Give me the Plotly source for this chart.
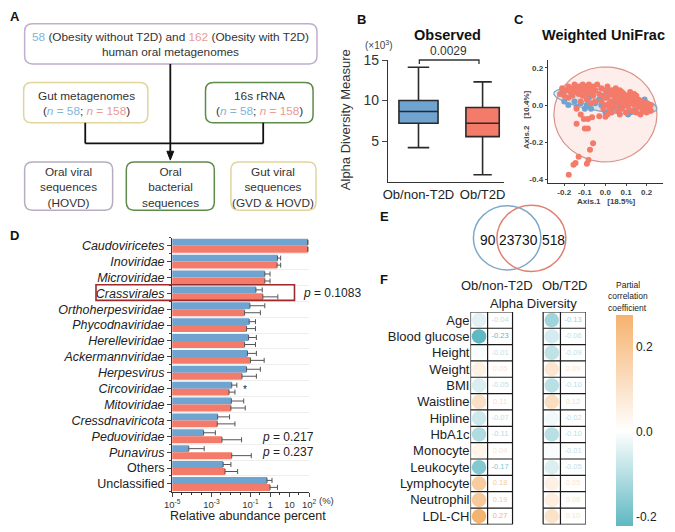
import numpy as np
import plotly.graph_objects as go

W, H = 675, 532
FONT = "Liberation Sans, Arial, sans-serif"
TXT = "#222222"
BLUE = "#6fa3d0"
RED = "#f47a69"


def px(x):
    return x / W


def py(y):
    return 1 - y / H


# ---------------- DATA ----------------
# Panel B: Observed alpha diversity (x10^3)
groups_B = ["Ob/non-T2D", "Ob/T2D"]
upper_B = [14.1, 12.3]
q3_B = [10.0, 9.15]
median_B = [8.65, 7.2]
q1_B = [7.2, 5.55]
lower_B = [4.2, 0.85]
pval_B = "0.0029"

# Panel C: Weighted UniFrac PCoA (estimated point positions)
blue_points = [(-0.20, 0.02), (-0.18, 0.00), (-0.21, 0.07), (-0.14, -0.01), (-0.12, 0.01),
               (-0.10, -0.02), (-0.08, 0.04), (-0.07, -0.02), (-0.05, 0.01), (-0.03, 0.03),
               (-0.15, 0.02), (-0.11, 0.09), (-0.06, 0.07), (0.00, -0.04), (0.03, -0.03),
               (0.05, 0.01), (0.07, -0.02), (0.10, 0.00), (0.12, -0.04), (0.14, -0.03),
               (0.16, 0.01), (0.18, -0.02), (0.20, -0.01), (0.09, 0.05), (0.13, 0.03),
               (0.19, 0.03), (-0.02, 0.00), (0.11, -0.05), (-0.09, 0.00), (0.01, 0.07)]
red_points = [(-0.22, 0.06), (-0.21, 0.09), (-0.20, 0.05), (-0.19, 0.08), (-0.18, 0.10),
              (-0.18, 0.04), (-0.17, 0.07), (-0.16, 0.09), (-0.16, 0.05), (-0.15, 0.11),
              (-0.15, 0.07), (-0.14, 0.09), (-0.13, 0.06), (-0.13, 0.10), (-0.12, 0.08),
              (-0.11, 0.11), (-0.11, 0.05), (-0.10, 0.08), (-0.10, 0.10), (-0.09, 0.06),
              (-0.09, 0.03), (-0.08, 0.09), (-0.08, 0.11), (-0.07, 0.07), (-0.06, 0.10),
              (-0.06, 0.05), (-0.05, 0.08), (-0.04, 0.11), (-0.12, 0.02), (-0.07, 0.01),
              (-0.05, 0.02),
              (-0.03, 0.06), (-0.02, 0.09), (-0.02, 0.02), (-0.01, 0.05), (0.00, 0.08),
              (0.00, 0.00), (0.01, 0.04), (0.01, 0.10), (0.02, 0.06), (0.02, -0.02),
              (0.03, 0.02), (0.03, 0.08), (0.04, 0.05), (0.04, -0.01), (0.05, 0.09),
              (0.05, 0.03), (0.06, 0.06), (0.06, -0.03), (0.07, 0.01), (0.07, 0.08),
              (0.08, 0.04), (0.08, -0.02), (0.09, 0.06), (0.09, 0.00), (0.10, 0.03),
              (0.10, -0.04), (0.11, 0.05), (0.11, -0.01), (0.12, 0.02), (0.12, 0.07),
              (0.13, -0.03), (0.13, 0.04), (0.14, 0.00), (0.14, 0.06), (0.15, 0.02),
              (0.15, -0.04), (0.16, 0.03), (0.16, -0.01), (0.17, 0.00), (0.17, -0.05),
              (0.18, 0.02), (0.18, -0.03), (0.19, -0.01), (0.20, -0.04), (0.20, 0.01),
              (0.21, -0.02), (0.22, -0.03), (0.22, 0.00), (0.05, 0.00), (0.03, -0.04),
              (0.00, 0.04), (-0.01, -0.02), (0.08, 0.07), (0.11, 0.02), (0.13, 0.01),
              (0.02, 0.01), (0.06, 0.03), (0.09, 0.03), (0.04, 0.07), (0.15, 0.05),
              (0.07, -0.05), (0.01, -0.05),
              (-0.14, -0.02), (-0.12, -0.05), (-0.14, -0.10), (-0.105, -0.075),
              (-0.085, -0.075), (-0.065, -0.065), (-0.03, -0.06), (0.00, -0.063),
              (-0.10, -0.125), (-0.085, -0.125), (-0.06, -0.205), (-0.075, -0.24),
              (-0.13, -0.277), (-0.145, -0.31), (-0.155, -0.32), (-0.09, -0.315),
              (-0.082, -0.295), (-0.178, -0.374)]
# ellipse: centre x, centre y, semi-axis a, semi-axis b, rotation (deg)
ellipse_red = (0.0, -0.05, 0.25, 0.255, 0.0)
ellipse_blue = (0.0, 0.022, 0.254, 0.058, -9.6)

# Panel D: relative abundance (%)
taxa = ["Caudoviricetes", "Inoviridae", "Microviridae", "Crassvirales", "Orthoherpesviridae",
        "Phycodnaviridae", "Herelleviridae", "Ackermannviridae", "Herpesvirus", "Circoviridae",
        "Mitoviridae", "Cressdnaviricota", "Peduoviridae", "Punavirus", "Others", "Unclassified"]
taxa_italic = [True] * 14 + [False, False]
abund_non = [85, 2.4, 0.54, 0.19, 0.093, 0.086, 0.08, 0.07, 0.063, 0.011, 0.0105, 0.0021,
             0.0004, 0.00007, 0.004, 0.7]
abund_t2d = [85, 2.3, 0.54, 0.43, 0.05, 0.063, 0.05, 0.1, 0.037, 0.008, 0.01, 0.002,
             0.0035, 0.011, 0.005, 1.0]
upper_non = [85, 3.5, 1.0, 0.4, 0.54, 0.18, 0.2, 0.2, 0.32, 0.02, 0.045, 0.0085,
             0.0016, 0.00043, 0.01, 1.26]
upper_t2d = [85, 3.5, 1.0, 2.5, 0.32, 0.18, 0.18, 0.5, 0.2, 0.016, 0.054, 0.016,
             0.035, 0.11, 0.022, 2.4]

# Panel E: Venn counts
venn_counts = ["90", "23730", "518"]

# Panel F: partial correlation with alpha diversity
factors = ["Age", "Blood glucose", "Height", "Weight", "BMI", "Waistline", "Hipline", "HbA1c",
           "Monocyte", "Leukocyte", "Lymphocyte", "Neutrophil", "LDL-CH"]
r_non = [-0.04, -0.23, -0.01, 0.05, -0.05, 0.11, -0.07, -0.11, 0.04, -0.17, 0.18, 0.19, 0.27]
r_t2d = [-0.13, -0.06, -0.09, 0.09, -0.10, 0.12, -0.02, -0.10, -0.01, -0.05, 0.05, 0.06, 0.10]

# ---------------- FIGURE ----------------
fig = go.Figure()
shapes = []
ann = []


def add_text(x, y, text, size=12, color=TXT, bold=False, xanchor="center", angle=0, yanchor="middle"):
    ann.append(dict(x=px(x), y=py(y), xref="paper", yref="paper", text=text, showarrow=False,
                    xanchor=xanchor, yanchor=yanchor, textangle=angle,
                    font=dict(family=FONT, size=size, color=color,
                              weight="bold" if bold else "normal")))


def rrect(x0, y0, x1, y1, color, r=8, w=1.5):
    pts = (f"M {px(x0 + r)} {py(y0)} L {px(x1 - r)} {py(y0)} Q {px(x1)} {py(y0)} {px(x1)} {py(y0 + r)} "
           f"L {px(x1)} {py(y1 - r)} Q {px(x1)} {py(y1)} {px(x1 - r)} {py(y1)} "
           f"L {px(x0 + r)} {py(y1)} Q {px(x0)} {py(y1)} {px(x0)} {py(y1 - r)} "
           f"L {px(x0)} {py(y0 + r)} Q {px(x0)} {py(y0)} {px(x0 + r)} {py(y0)} Z")
    shapes.append(dict(type="path", path=pts, xref="paper", yref="paper",
                       line=dict(color=color, width=w)))


def pline(x0, y0, x1, y1, color="#111", w=1.8):
    shapes.append(dict(type="line", xref="paper", yref="paper", x0=px(x0), y0=py(y0),
                       x1=px(x1), y1=py(y1), line=dict(color=color, width=w)))


# ---- Panel A: flowchart ----
PURP = "#bfaecf"
KHAKI = "#e2d59c"
GREEN = "#5e8a4a"
NB = "#7fb5d9"
NR = "#e89c94"
rrect(17, 16, 316, 57, PURP)
rrect(16, 76, 143, 117, KHAKI)
rrect(202, 76, 312, 117, GREEN)
rrect(17, 157, 107, 206, "#b7adc2")
rrect(121, 157, 211, 206, GREEN)
rrect(228, 157, 315, 206, KHAKI)
pline(166, 57, 166, 146)
pline(79, 117, 79, 138)
pline(79, 138, 261, 138)
pline(261, 138, 261, 117)
# arrow head (filled triangle) pointing down onto the middle bottom box
shapes.append(dict(type="path", xref="paper", yref="paper",
                   path=f"M {px(162.5)} {py(146)} L {px(169.5)} {py(146)} L {px(166)} {py(155)} Z",
                   fillcolor="#111", line=dict(color="#111", width=1)))
add_text(166, 37, f"<span style='color:{NB}'>58</span> (Obesity without T2D) and "
                  f"<span style='color:{NR}'>162</span> (Obesity with T2D)<br>human oral metagenomes",
         size=11.8, color="#333")
nline = (f"(<i><span style='color:{NB}'>n</span></i><span style='color:{NB}'> = 58</span>; "
         f"<i><span style='color:{NR}'>n</span></i><span style='color:{NR}'> = 158</span>)")
add_text(80, 97, "Gut metagenomes<br>" + nline, size=11.8, color="#333")
add_text(257, 97, "16s rRNA<br>" + nline, size=11.8, color="#333")
add_text(62, 183, "Oral viral<br>sequences<br>(HOVD)", size=11.8, color="#333")
add_text(166, 183, "Oral<br>bacterial<br>sequences", size=11.8, color="#333")
add_text(271.5, 183, "Gut viral<br>sequences<br>(GVD &amp; HOVD)", size=11.8, color="#333")

# ---- Panel labels ----
for lab, (x, y) in {"A": (7, 9), "B": (362, 12), "C": (523, 12), "D": (7, 232),
                    "E": (385, 213), "F": (385, 277)}.items():
    add_text(x, y, lab, size=13, bold=True, color="#111")

# ---- Panel B: box plot ----
box_w = [0.61, 0.52]
for i, (g, col) in enumerate(zip(groups_B, [BLUE, RED])):
    fig.add_trace(go.Box(x=[i], q1=[q1_B[i]], median=[median_B[i]], q3=[q3_B[i]],
                         lowerfence=[lower_B[i]], upperfence=[upper_B[i]], name=g,
                         fillcolor=col, line=dict(color="#2a2a2a", width=1.6),
                         whiskerwidth=0.55, width=box_w[i], boxpoints=False,
                         xaxis="x", yaxis="y", showlegend=False))
shapes += [dict(type="path", xref="paper", yref="paper",
                path=f"M {px(420.7)} {py(57)} L {px(420.7)} {py(53)} L {px(481.7)} {py(53)} L {px(481.7)} {py(57)}",
                line=dict(color="#333", width=1.3))]
add_text(451, 44, pval_B, size=12, color="#333")
add_text(379, 38, "(×10<sup>3</sup>)", size=10, color="#444")
add_text(449, 28, "Observed", size=14.5, bold=True, color="#111")
add_text(346, 114, "Alpha Diversity Measure", size=13, angle=-90, color="#333")

# ---- Panel C: PCoA ----
def ellipse(cx, cy, a, b, ang):
    t = np.linspace(0, 2 * np.pi, 120)
    th = np.deg2rad(ang)
    return (cx + a * np.cos(t) * np.cos(th) - b * np.sin(t) * np.sin(th),
            cy + a * np.cos(t) * np.sin(th) + b * np.sin(t) * np.cos(th))


ex, ey = ellipse(*ellipse_red)
fig.add_trace(go.Scatter(x=ex, y=ey, mode="lines", fill="toself", fillcolor="rgba(248,205,198,0.35)",
                         line=dict(color="#d99288", width=1.2), xaxis="x2", yaxis="y2",
                         showlegend=False, hoverinfo="skip"))
ex, ey = ellipse(*ellipse_blue)
fig.add_trace(go.Scatter(x=ex, y=ey, mode="lines", fill="toself", fillcolor="rgba(160,185,215,0.30)",
                         line=dict(color="#7fa4c6", width=1.2), xaxis="x2", yaxis="y2",
                         showlegend=False, hoverinfo="skip"))
fig.add_trace(go.Scatter(x=[p[0] for p in blue_points], y=[p[1] for p in blue_points], mode="markers",
                         marker=dict(color=BLUE, size=6), xaxis="x2", yaxis="y2", showlegend=False))
fig.add_trace(go.Scatter(x=[p[0] for p in red_points], y=[p[1] for p in red_points], mode="markers",
                         marker=dict(color=RED, size=6), xaxis="x2", yaxis="y2", showlegend=False))
add_text(609, 28, "Weighted UniFrac", size=14.5, bold=True, color="#111")
add_text(612, 197, "Axis.1   [18.5%]", size=8, bold=True, color="#444")
add_text(531, 114, "Axis.2   [10.4%]", size=8, bold=True, color="#444", angle=-90)

# ---- Panel D: bars ----
ypos = list(range(len(taxa)))
ticktext_D = [f"<i>{t}</i>" if it else t for t, it in zip(taxa, taxa_italic)]
for vals, ups, col in [(abund_non, upper_non, BLUE), (abund_t2d, upper_t2d, RED)]:
    fig.add_trace(go.Bar(y=ypos, x=vals, orientation="h", marker=dict(color=col, line=dict(width=0)),
                         error_x=dict(type="data", symmetric=False,
                                      array=[u - v for u, v in zip(ups, vals)],
                                      arrayminus=[0] * len(vals), color="#555", thickness=1, width=2.5),
                         xaxis="x3", yaxis="y3", showlegend=False))
shapes.append(dict(type="rect", xref="paper", yref="paper", x0=px(90), x1=px(293),
                   y0=py(282), y1=py(298), line=dict(color="#9e2a2b", width=1.6)))
add_text(300, 290, "<i>p</i> = 0.1083", size=12, color="#222", xanchor="left")
add_text(258, 437, "<i>p</i> = 0.217", size=12, color="#222", xanchor="left")
add_text(258, 453, "<i>p</i> = 0.237", size=12, color="#222", xanchor="left")
add_text(242, 389, "*", size=10, color="#222")
add_text(326, 502, "(%)", size=9.5, color="#333")
add_text(245, 518, "Relative abundance percent", size=12.5, color="#222")

# ---- Panel E: Venn ----
shapes.append(dict(type="circle", xref="paper", yref="paper", x0=px(476), x1=px(545),
                   y0=py(201.5), y1=py(267), line=dict(color="#80a9c9", width=1.5)))
shapes.append(dict(type="circle", xref="paper", yref="paper", x0=px(500), x1=px(570.5),
                   y0=py(201), y1=py(268.5), line=dict(color="#e07f73", width=1.5)))
for x, t in zip([491.0, 522.0, 557.5], venn_counts):
    add_text(x, 236.5, t, size=13.8, color="#111")

# ---- Panel F: correlation table ----
CMIN, CMAX = -0.222, 0.273
cstops = [(0.0, (95, 184, 194)), ((0 - CMIN) / (CMAX - CMIN), (255, 255, 255)), (1.0, (245, 178, 110))]
colorscale = [[s, f"rgb{c}"] for s, c in cstops]


def cmap(v):
    f = min(max((v - CMIN) / (CMAX - CMIN), 0), 1)
    for (s0, c0), (s1, c1) in zip(cstops[:-1], cstops[1:]):
        if s0 <= f <= s1:
            k = (f - s0) / (s1 - s0)
            return "rgb(%d,%d,%d)" % tuple(round(a + (b - a) * k) for a, b in zip(c0, c1))
    return "rgb(255,255,255)"


def tcol(v):
    return cmap(np.sign(v) * max(abs(v), 0.09) if v != 0 else -0.09)


rows = list(range(len(factors)))
TX1 = (473, 490.5, 516)
TX2 = (547.3, 565, 591)
for (x0, xm, x1), vals in [(TX1, r_non), (TX2, r_t2d)]:
    fig.add_trace(go.Scatter(x=[(x0 + xm) / 2] * len(rows), y=rows, mode="markers",
                             marker=dict(size=14.5, color=vals, coloraxis="coloraxis", line=dict(width=0)),
                             xaxis="x4", yaxis="y4", showlegend=False))
    fig.add_trace(go.Scatter(x=[(xm + x1) / 2] * len(rows), y=rows, mode="text",
                             text=[f"{v:.2f}" for v in vals],
                             textfont=dict(family=FONT, size=7.5, color=[tcol(v) for v in vals]),
                             xaxis="x4", yaxis="y4", showlegend=False))
    for r in range(len(rows) + 1):
        shapes.append(dict(type="line", xref="x4", yref="y4", x0=x0, x1=x1, y0=r - 0.5, y1=r - 0.5,
                           line=dict(color="#1a1a1a", width=1.2)))
    for xx in (x0, xm, x1):
        shapes.append(dict(type="line", xref="x4", yref="y4", x0=xx, x1=xx, y0=-0.5, y1=len(rows) - 0.5,
                           line=dict(color="#1a1a1a", width=1.2)))
add_text(500.5, 283, "Ob/non-T2D", size=13, color="#222")
add_text(570, 283, "Ob/T2D", size=13, color="#222")
add_text(537.5, 301, "Alpha Diversity", size=13, color="#222")
add_text(634, 282, "Partial", size=8.5, color="#222")
add_text(634, 294, "correlation", size=8.5, color="#222")
add_text(634, 305.5, "coefficient", size=8.5, color="#222")

# ---------------- LAYOUT ----------------
axis_common = dict(showgrid=False, zeroline=False, linecolor="#333", showline=True)
fig.update_layout(
    width=W, height=H, margin=dict(l=0, r=0, t=0, b=0),
    paper_bgcolor="white", plot_bgcolor="rgba(0,0,0,0)",
    font=dict(family=FONT, color=TXT),
    showlegend=False, barmode="group", bargap=0.12, bargroupgap=0.0,
    shapes=shapes, annotations=ann,
    # B
    xaxis=dict(domain=[px(389), px(507)], range=[-0.47, 1.33], tickvals=[0, 1], ticktext=groups_B,
               ticks="", tickfont=dict(size=13, color="#222"), linewidth=1.4, anchor="y", **axis_common),
    yaxis=dict(domain=[py(177), py(53)], range=[0, 15], tickvals=[5, 10, 15], ticks="outside", ticklen=5,
               tickfont=dict(size=14, color="#333"), linewidth=1.4, anchor="x", **axis_common),
    # C
    xaxis2=dict(domain=[px(552), px(670)], range=[-0.28, 0.28], tickvals=[-0.2, -0.1, 0.0, 0.1, 0.2],
                ticktext=["-0.2", "-0.1", "0.0", "0.1", "0.2"], ticks="outside", ticklen=2,
                tickfont=dict(size=8, color="#444", weight="bold"), linewidth=1, anchor="y2",
                **axis_common),
    yaxis2=dict(domain=[py(178), py(53)], range=[-0.416, 0.242], tickvals=[-0.4, -0.2, 0.0, 0.2],
                ticktext=["-0.4", "-0.2", "0.0", "0.2"], ticks="outside", ticklen=2,
                tickfont=dict(size=8, color="#444", weight="bold"), linewidth=1, anchor="x2",
                **axis_common),
    # D
    xaxis3=dict(domain=[px(168), px(308)], type="log", range=[-5, 2],
                tickvals=[1e-5, 1e-3, 1e-1, 1, 10, 100],
                ticktext=["10<sup>-5</sup>", "10<sup>-3</sup>", "10<sup>-1</sup>", "1", "10", "10<sup>2</sup>"],
                ticks="outside", ticklen=4, tickfont=dict(size=9.5, color="#333"),
                minor=dict(ticks="outside", ticklen=2, tickvals=[1e-4, 1e-2, 3e-5, 3e-4, 3e-3, 3e-2, 0.3, 3, 30],
                           tickcolor="#333"),
                linewidth=1.2, anchor="y3", **axis_common),
    yaxis3=dict(domain=[py(493.1), py(234.2)], range=[15.5, -0.5], tickvals=ypos, ticktext=ticktext_D,
                ticks="outside", ticklen=4, tickfont=dict(size=12.5, color="#222"),
                minor=dict(tickmode="linear", tick0=0.5, dtick=1, ticks="outside", ticklen=2,
                           showgrid=True, gridcolor="#eeeeee", gridwidth=1),
                linewidth=1.2, anchor="x3", showline=True, zeroline=False, linecolor="#333"),
    # F
    xaxis4=dict(domain=[px(473), px(591)], range=[473, 591], visible=False, anchor="y4"),
    yaxis4=dict(domain=[py(526.3), py(309.7)], range=[12.5, -0.5], tickvals=rows, ticktext=factors,
                ticks="", showline=False, showgrid=False, zeroline=False,
                tickfont=dict(size=13, color="#222"), anchor="x4"),
    coloraxis=dict(colorscale=colorscale, cmin=CMIN, cmax=CMAX,
                   colorbar=dict(x=px(621.7), xanchor="left", xpad=0, ypad=0, y=py(420.7), yanchor="middle",
                                 len=214.7 / H, lenmode="fraction", thickness=16.6, outlinewidth=0,
                                 tickvals=[-0.2, 0.0, 0.2], ticktext=["-0.2", "0.0", "0.2"], ticks="",
                                 tickfont=dict(size=12, color="#222"))),
)

fig.write_html("out.html", config={"staticPlot": True},
               post_script="document.body.style.margin='0';document.body.style.overflow='hidden';")
